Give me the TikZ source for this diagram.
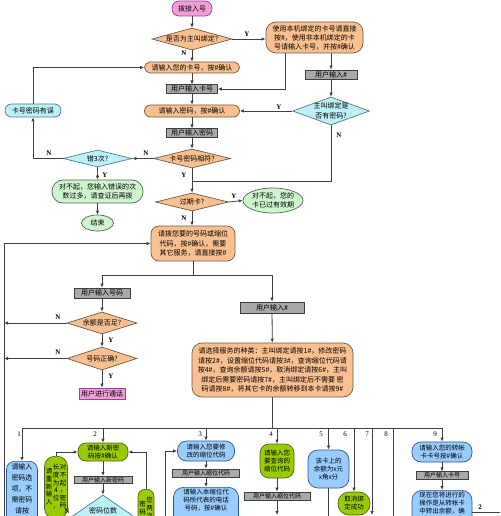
\documentclass[tikz,border=0pt]{standalone}
\usepackage{fontspec}
\setmainfont{Noto Sans CJK SC}
\newfontfamily\latf{Liberation Serif}
\usetikzlibrary{shapes.geometric,arrows.meta}
\definecolor{orF}{HTML}{FAC08F}
\definecolor{orD}{HTML}{6B5B4B}
\definecolor{grF}{HTML}{A9A9A9}
\definecolor{grD}{HTML}{3F3F3F}
\definecolor{pkF}{HTML}{F29ED6}
\definecolor{pkD}{HTML}{9B3FA0}
\definecolor{cyF}{HTML}{BDF1F8}
\definecolor{cyD}{HTML}{4F7F8A}
\definecolor{lgF}{HTML}{CFF5CF}
\definecolor{lgD}{HTML}{4B6B4B}
\definecolor{ygF}{HTML}{99CC00}
\definecolor{ygD}{HTML}{4F6228}
\definecolor{blF}{HTML}{99CCFF}
\definecolor{blD}{HTML}{2F5597}
\definecolor{lnC}{HTML}{404040}
\newcommand\dtext[1]{\smash{\raisebox{-.35em}{\makebox[0pt]{\begin{tabular}{@{}c@{}}#1\end{tabular}}}}}
\newcommand\vcol[1]{\begin{tabular}[c]{@{}c@{}}#1\end{tabular}}
\newcommand\tcol[1]{\begin{tabular}[t]{@{}c@{}}#1\end{tabular}}
\tikzset{
  every node/.style={font=\fontsize{7}{9.5}\selectfont, inner sep=0pt, align=center, text=black},
  ln/.style={draw=lnC, line width=0.8pt},
  arr/.style={draw=lnC, line width=0.8pt, -{Latex[length=4pt,width=3.5pt]}},
  obox/.style={draw=orD, fill=orF, line width=0.7pt, rounded corners=5pt},
  gbox/.style={draw=grD, fill=grF, line width=0.7pt},
  pk/.style={draw=pkD, fill=pkF, line width=0.7pt},
  cbox/.style={draw=cyD, fill=cyF, line width=0.7pt},
  lg/.style={draw=lgD, fill=lgF, line width=0.7pt},
  yg/.style={draw=ygD, fill=ygF, line width=0.7pt},
  bl/.style={draw=blD, fill=blF, line width=0.7pt},
  odia/.style={diamond, draw=orD, fill=orF, line width=0.7pt},
  cdia/.style={diamond, draw=cyD, fill=cyF, line width=0.7pt},
  yn/.style={font=\latf\bfseries\fontsize{7}{8}\selectfont},
  num/.style={font=\latf\fontsize{7}{8}\selectfont},
  small/.style={font=\fontsize{6.5}{8}\selectfont},
}
\begin{document}
\begin{tikzpicture}[x=1pt,y=-1pt]
\useasboundingbox (0,0) rectangle (500,516);
\fill[white] (0,0) rectangle (500,516);
\clip (0,0) rectangle (500,516);

% ---------- top section ----------
\node[pk, rounded corners=7pt, minimum width=40, minimum height=15] (start) at (192,8.5) {拨接入号};
\node[odia, minimum width=80, minimum height=22] (d1) at (192,39) {\dtext{是否为主叫绑定?}};
\node[obox, rounded corners=10pt, minimum width=97, minimum height=31, font=\fontsize{7}{9}\selectfont] (r1) at (314.5,37.5) {使用本机绑定的卡号请直接\\按\#，使用非本机绑定的卡\\号请输入卡号，并按\#确认};
\node[obox, rounded corners=5.5pt, minimum width=95, minimum height=11] (b1) at (192,67.5) {请输入您的卡号，按\#确认};
\node[gbox, minimum width=51, minimum height=8.5] (g1) at (192,89) {用户输入卡号};
\node[obox, rounded corners=6pt, minimum width=95, minimum height=12] (b2) at (192,111) {请输入密码，按\#确认};
\node[gbox, minimum width=51, minimum height=8.5] (g2) at (192,133) {用户输入密码};
\node[odia, minimum width=77, minimum height=19] (d2) at (192,158.5) {\dtext{卡号密码相符?}};
\node[cdia, minimum width=69, minimum height=17] (d3) at (97.5,158.5) {\dtext{错3次?}};
\node[cbox, rounded corners=6.5pt, minimum width=56, minimum height=13] (e0) at (33,110.5) {卡号密码有误};
\node[gbox, minimum width=52, minimum height=9] (gr1) at (331,74.5) {用户输入\#};
\node[cdia, minimum width=77, minimum height=28] (d4) at (331,111) {\dtext{主叫绑定是\\否有密码?}};
\node[lg, rounded corners=11pt, minimum width=91, minimum height=23] (e1) at (97.5,191.5) {对不起，您输入错误的次\\数过多，请查证后再拨};
\node[lg, ellipse, minimum width=32, minimum height=16] (e2) at (97.5,223) {结束};
\node[odia, minimum width=73, minimum height=18] (d5) at (192,202) {\dtext{过期卡?}};
\node[lg, ellipse, minimum width=60, minimum height=25] (e3) at (273,200.5) {对不起，您的\\卡已过有效期};
\node[obox, rounded corners=8pt, minimum width=84, minimum height=35] (b3) at (193,243.5) {请拨您要的号码或缩位\\代码，按\#确认，需要\\其它服务，请直接按\#};
\node[gbox, minimum width=56, minimum height=10] (g3) at (102,293) {用户输入号码};
\node[odia, minimum width=70, minimum height=22] (d6) at (102,323) {\dtext{余额是否足?}};
\node[odia, minimum width=70, minimum height=23] (d7) at (102,358.5) {\dtext{号码正确?}};
\node[pk, minimum width=46, minimum height=11] (p2) at (102,393.5) {用户进行通话};
\node[gbox, minimum width=64, minimum height=11] (g4) at (272,307.5) {用户输入\#};
\node[obox, rounded corners=10pt, minimum width=161, minimum height=54] (big) at (272.5,370) {请选择服务的种类：主叫绑定请按1\#，修改密码\\请按2\#，设置缩位代码请按3\#，查询缩位代码请\\按4\#，查询余额请按5\#，取消绑定请按6\#，主叫\\绑定后需要密码请按7\#，主叫绑定后不需要 密\\码请按8\#，将其它卡的余额转移到本卡请按9\#};

\coordinate (j1) at (192,181);
\coordinate (lb) at (4,520);
\coordinate (bs) at (193,275);

\draw[arr] (start) -- (d1);
\draw[arr] (d1.east) -- (d1.east -| r1.west);
\draw[arr] (d1) -- (b1);
\draw[arr] ([xshift=-29.5pt]r1.south) |- (g1.east);
\draw[arr] (r1.south -| gr1.north) -- (gr1.north);
\draw[arr] (gr1) -- (d4);
\draw[arr] (d4.west) -- (d4.west -| b2.east);
\draw[ln] (d4.south) |- (j1);
\draw[arr] (b1) -- (g1);
\draw[arr] (g1) -- (b2);
\draw[arr] (b2) -- (g2);
\draw[arr] (g2) -- (d2);
\draw[arr] (d2.west) -- (d3.east);
\draw[arr] (d3.west) -| (e0.south);
\draw[arr] (e0.north) |- (b1.west);
\draw[arr] (d3.south) -- (e1.north);
\draw[arr] (e1) -- (e2);
\draw[arr] (d2.south) -- (d5.north);
\draw[arr] (d5.east) -- (e3.west);
\draw[arr] (d5.south) -- (d5.south |- b3.north);
\draw[arr] (lb) |- (b3.west);
\draw[ln] (b3.south) -- (bs);
\draw[arr] (bs) -| (g3.north);
\draw[arr] (bs) -| (g4.north);
\draw[arr] (g3) -- (d6);
\draw[arr] (d6) -- (d7);
\draw[arr] (d7) -- (p2);
\draw[arr] (d6.west) -- (d6.west -| lb);
\draw[arr] (d7.west) -- (d7.west -| lb);
\draw[arr] (g4) -- (big);

\node[yn] (y1) at (247,34) {Y};
\node[yn] (n1) at (184,53) {N};
\node[yn] (n2) at (146,153) {N};
\node[yn] (y2) at (184,175) {Y};
\node[yn] (n3) at (49,153) {N};
\node[yn] (y3) at (105,175) {Y};
\node[yn] (y4) at (279,107) {Y};
\node[yn] (n4) at (339,135) {N};
\node[yn] (y5) at (234,196) {Y};
\node[yn] (n5) at (184,218) {N};
\node[yn] (n6) at (58,317) {N};
\node[yn] (y6) at (111,340) {Y};
\node[yn] (n7) at (58,352) {N};
\node[yn] (y7) at (111,376) {Y};

% ---------- bottom section ----------
\coordinate (busL) at (22,428);
\coordinate (busR) at (442,428);
\draw[ln] (big.south) -- (big.south |- busL);
\draw[ln] (busL) -- (busR);

\node[bl, rounded corners=8pt, anchor=north, minimum width=31, text depth=60pt, inner ysep=0.5pt] (bb1) at (22,461) {{\renewcommand\arraystretch{1.15}\tcol{请输入\\密码选\\项，不\\需密码\\请按\\0，需}}};
\node[yg, rounded corners=10pt, anchor=north, minimum width=23, minimum height=62] (gl) at (56,456) {{\fontsize{6.5}{7.5}\selectfont\begin{tabular}{@{}c@{\hspace{0.5pt}}c@{\hspace{0.5pt}}c@{}}\vcol{请\\重\\新\\输\\入}&\vcol{长\\度\\为\\4\\位\\，}&\vcol{对\\不\\起\\，\\密\\码}\end{tabular}}};
\node[yg, rounded corners=8pt, minimum width=50, minimum height=18, small] (gn) at (103,452) {请输入新密\\码按\#确认};
\node[gbox, minimum width=58, minimum height=7.5, font=\fontsize{6}{7}\selectfont] (gg) at (103,480) {用户输入新密码};
\node[cdia, minimum width=72, minimum height=50] (dd) at (103,520) {\dtext{密码位数\\~\\~}};
\node[yg, rounded corners=7pt, anchor=north, minimum width=16, minimum height=62] (gr) at (146,489) {{\fontsize{6.5}{7.5}\selectfont\begin{tabular}{@{}c@{\hspace{0.5pt}}c@{}}\vcol{密\\码\\不\\一\\致}&\vcol{您\\两\\次\\输\\入\\的}\end{tabular}}};

\node[bl, rounded corners=9pt, minimum width=57, minimum height=20, small] (bb3) at (206,451) {请输入您要修\\改的缩位代码};
\node[gbox, minimum width=67, minimum height=8, font=\fontsize{6}{7}\selectfont] (gg3) at (206,473) {用户输入缩位代码};
\node[bl, rounded corners=10pt, anchor=north, minimum width=65, text depth=30pt, inner ysep=2pt, small] (bb3b) at (206,487) {\tcol{请输入本缩位代\\码所代表的电话\\号码，按\#确认}};

\node[yg, rounded corners=9pt, minimum width=34, minimum height=34, small] (gb4) at (277,461) {请输入您\\要查询的\\缩位代码};
\node[gbox, minimum width=66, minimum height=8, font=\fontsize{6}{7}\selectfont] (gg4) at (277,496) {用户输入缩位代码};
\node[bl, rounded corners=10pt, minimum width=41, minimum height=38, small] (bb5) at (328.5,469) {该卡上的\\余额为x元\\x角x分};
\node[yg, rounded corners=11pt, minimum width=32, minimum height=23, small] (gb6) at (354,503.5) {取消绑\\定成功};
\node[bl, rounded corners=9pt, minimum width=60, minimum height=20, small] (bb9) at (442,452) {请输入您的转帐\\卡卡号按\#确认};
\node[gbox, minimum width=52, minimum height=7.5, font=\fontsize{6}{7}\selectfont] (gg9) at (442,475.5) {用户输入卡号};
\node[bl, rounded corners=10pt, anchor=north, minimum width=60, text depth=30pt, inner ysep=1.5pt, small] (bb9b) at (442,490) {\tcol{现在您将进行的\\操作是从转帐卡\\中转出余额，确}};

\coordinate (l3) at (165,520);
\coordinate (e4) at (277,515);
\coordinate (e5) at (328.5,520);
\coordinate (e7) at (372,515);
\coordinate (e8) at (393,520);
\coordinate (c2) at (500,512);

\draw[arr] (busL) -- (bb1.north);
\draw[arr] (busL -| gn.north) -- (gn.north);
\draw[arr] (busL -| bb3.north) -- (bb3.north);
\draw[arr] (busL -| gb4.north) -- (gb4.north);
\draw[arr] (busL -| bb5.north) -- (bb5.north);
\draw[arr] (busL -| gb6.north) -- (gb6.north);
\draw[arr] (busL -| e7) -- (e7);
\draw[ln] (busL -| e8) -- (e8);
\draw[arr] (busR) -- (bb9.north);

\draw[arr] (gl.north) |- (gn.west);
\draw[arr] (gr.north) |- (gn.east);
\draw[arr] (gn) -- (gg);
\draw[arr] (gg) -- (dd.north);
\draw[arr] (l3) |- (bb3.west);
\draw[arr] (bb3) -- (gg3);
\draw[arr] (gg3) -- (bb3b.north);
\draw[arr] (gb4) -- (gg4);
\draw[arr] (gg4.south) -- (e4);
\draw[ln] (bb5.south) -- (e5);
\draw[arr] (bb9) -- (gg9);
\draw[arr] (gg9) -- (bb9b.north);
\draw[ln] (bb9b.east |- c2) -- (c2);

\node[num] (k1) at (19,434) {1};
\node[num] (k2) at (95,434) {2};
\node[num] (k3) at (200,434) {3};
\node[num] (k4) at (271,434) {4};
\node[num] (k5) at (321,434) {5};
\node[num] (k6) at (345,434) {6};
\node[num] (k7) at (367,434) {7};
\node[num] (k8) at (386,434) {8};
\node[num] (k9) at (435,434) {9};
\node[yn] (k10) at (480,507) {2};
\node[yn] (nd) at (67,511) {N};
\end{tikzpicture}
\end{document}
